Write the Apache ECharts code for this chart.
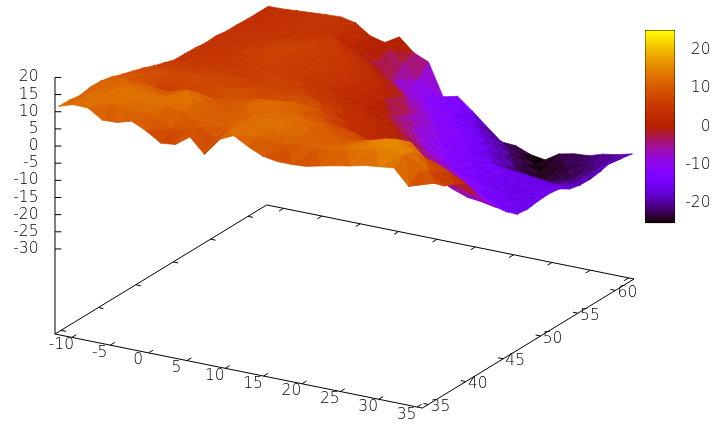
<!DOCTYPE html>
<html><head><meta charset="utf-8">
<style>html,body{margin:0;padding:0;background:#fff}#c{width:717px;height:426px}</style>
<script src="https://cdn.jsdelivr.net/npm/echarts@6/dist/echarts.min.js"></script></head>
<body><div id="c"></div>
<script>
const lonValues=[-12,-10.1,-8.2,-6.3,-4.4,-2.5,-0.6,1.3,3.2,5.1,7,8.9,10.8,12.7,14.6,16.5,18.4,20.3,22.2,24.1,26,27.9,29.8,31.7,33.6,35.5];
const latValues=[34.5,35.9,37.3,38.7,40.1,41.5,42.9,44.3,45.7,47.1,48.5,49.9,51.3,52.7,54.1,55.5,56.9,58.3,59.7,61.1,62.5];
const zValues=[
[11.3,12.6,12.5,9.8,10,11.2,9.2,6.5,7,10,5.8,11,13,10.6,8.7,8,8,8.3,9.3,10.2,11,12,12.5,13,8.5,11.8],
[11.2,12.8,13,12.5,12,12,11,9,9,11,9,12,13.5,12,11,11,12,12,12,13,14,15,16,15,11,8.4],
[10.7,12.5,13,13.5,13,13,13,12,10.5,11,10.5,12,13,13,12.5,12,11,11,11.5,13,14.5,16,16,14,9,5.7],
[11.3,12,12.5,13,13,12.5,13.5,13,11,11,11,12,12.5,13,13,11.5,11,10.5,11,12,13,14,14,10,7,4.4],
[11.2,11.5,12,12,11,11,13.5,11.5,10,10,11,12,12,12,12,11,10,9,8,8,8,9,8,7,5,2.9],
[10.5,10.8,10.5,10,9.5,11,11,10,10,10.5,12.5,13,11,11,10,9,9,8,6,5,4.5,4,3,2.5,1,-1.9],
[9.4,9.6,7.5,5,6,8,6.5,8.5,9,10,10,10.5,11.5,10,8,7,5.5,4,3,2,1,-0.5,-2,-3.5,-5,-6.8],
[8.5,8.8,8.5,7,8.5,8,9.5,9,8,8,8.5,8.5,9,8,6,4,2.5,1.5,0,-1.5,-3,-5,-7,-8.5,-9,-9.8],
[7.5,7.8,8,8,8,7,7,8,8,7.5,8,9,8,5.5,3.5,2.5,2,1,0,-1.5,-3.5,-6,-8,-10,-11.5,-13],
[6.3,6.6,6.5,6.5,7,7.5,7,6,6.5,7,7,6,5,4,3,2.5,1.5,-0.5,-3,-5,-7,-9,-11,-13,-14.5,-15.5],
[5.3,5.5,5.5,6,6,5.5,6,7,7,6,5.5,4.5,4,3,2,1,-0.5,-2.5,-5,-7,-9,-11,-13,-14.5,-15.5,-15.9],
[4.3,4.6,5,5,5,5.5,6,6,5.5,5,4.5,3,2.5,1.5,0.5,-1,-3,-7,-9.5,-11,-12.5,-14,-15,-15.5,-15.5,-15.4],
[4.2,4.3,4.5,5,5.5,6,6.5,5.5,5,5,4,3,2,1,-1.5,-4,-6.5,-9,-11,-12.5,-14,-15,-16,-16.5,-16,-15.2],
[4.1,4.3,4.6,5,6,6.5,6,5.5,5.5,5.5,4.5,3.5,3,0.5,-4,-6.5,-9,-11,-12.5,-14,-14,-14.5,-15,-15.5,-15.5,-15.6],
[3.7,4,4.5,5,6,7,6.5,6,5.5,5,4.5,3.5,2,-1,-5,-8,-10.5,-12,-13,-14.5,-15,-15.5,-16,-16.5,-17,-17.5],
[3.9,4,4.3,4.6,5.5,6,7,6,5,4.5,3.5,2,0,-3,-7,-9.5,-11,-12.5,-14.5,-17,-19,-20.5,-21,-20.5,-19,-18.2],
[3.4,3.6,4,4.3,4.5,5,5.5,5.5,4.5,3,1.5,-1,-4,-8,-10,-11.5,-12.5,-14.5,-16,-19.5,-22,-22.5,-22,-21,-20,-18.3],
[3.4,3.5,3.8,4,4,4.5,5,4.5,2,0.5,-1.5,-5,-7.5,-9.5,-11,-12.5,-14,-16,-18.5,-21.5,-23.5,-23.5,-23,-22,-20,-17.8],
[3.2,3.4,3.6,3.8,4,4,3,1,0,-1.5,-6,-9.5,-10.5,-11.5,-13,-14.5,-16.5,-18.5,-21,-23,-24.5,-24,-23,-22,-20,-16.9],
[3.2,3.3,3.5,3.7,4,4.2,3.5,1.5,0,0,-3,-7,-11,-12,-14,-16.5,-19,-21,-23,-25,-24.5,-23,-22,-21,-20,-17.8],
[3.2,3.3,3.6,3.9,4.2,4.4,3.5,0.6,-0.5,2,-1.8,-3.6,-12.9,-11.9,-15.3,-19,-22.6,-22.9,-24.6,-25.3,-22.7,-21.8,-21.5,-20.2,-19.5,-18.4]
];
const lonTicks=[-10,-5,0,5,10,15,20,25,30,35];
const latTicks=[35,40,45,50,55,60];
const zTicks=[20,15,10,5,0,-5,-10,-15,-20,-25,-30];
const cbTicks=[-20,-10,0,10,20];
const lonRange=[-12.2,35.7], latRange=[34.2,62.5], zRange=[-54.8,20], cbRange=[-25,25];
const FONT='"DejaVu Sans"', FS=15.5, FW=200, TC='#000';

function project(lon,lat,z){
  const u=lon-lonRange[0], v=lat-latRange[0];
  return [55+7.67*u+7.48*v, 334+1.546*u-4.56*v-3.43*(z-zRange[0])];
}
function pal(z){
  const g=Math.min(1,Math.max(0,(z-cbRange[0])/(cbRange[1]-cbRange[0])));
  const c=v=>Math.round(255*Math.max(0,Math.min(1,v)));
  return 'rgb('+c(Math.sqrt(g))+','+c(g*g*g)+','+c(Math.sin(2*Math.PI*g))+')';
}
const tris=[];
for(let k=0;k<latValues.length-1;k++)for(let j=0;j<lonValues.length-1;j++){
  const P=(a,b)=>[lonValues[j+a],latValues[k+b],zValues[k+b][j+a]];
  const q=(j+k)%2===0?[[P(0,0),P(1,0),P(1,1)],[P(0,0),P(1,1),P(0,1)]]:[[P(0,0),P(1,0),P(0,1)],[P(1,0),P(1,1),P(0,1)]];
  q.forEach(t=>tris.push(t));
}
const depth=t=>t.reduce((s,p)=>s+1.546*p[0]-4.56*p[1],0);
tris.sort((a,b)=>depth(a)-depth(b));

const zb=zRange[0];
const boxSegs=[
 [[lonRange[0],latRange[0],zb],[lonRange[1],latRange[0],zb]],
 [[lonRange[1],latRange[0],zb],[lonRange[1],latRange[1],zb]],
 [[lonRange[1],latRange[1],zb],[lonRange[0],latRange[1],zb]],
 [[lonRange[0],latRange[1],zb],[lonRange[0],latRange[0],zb]],
 [[lonRange[0],latRange[0],zb],[lonRange[0],latRange[0],zRange[1]]]
];
lonTicks.forEach(l=>{
  boxSegs.push([[l,latRange[0],zb],[l,latRange[0]+0.6,zb]]);
  boxSegs.push([[l,latRange[1],zb],[l,latRange[1]-0.6,zb]]);
});
latTicks.forEach(l=>{
  boxSegs.push([[lonRange[1],l,zb],[lonRange[1]-0.65,l,zb]]);
  boxSegs.push([[lonRange[0],l,zb],[lonRange[0]+0.65,l,zb]]);
});
zTicks.forEach(z=>{
  boxSegs.push([[lonRange[0],latRange[0],z],[lonRange[0]+0.62,latRange[0]+0.21,z]]);
});
const labels=[];
lonTicks.forEach(l=>{const p=project(l,latRange[0],zb);labels.push({t:String(l),x:p[0]-10.5,y:p[1]+7.5,a:'center'});});
latTicks.forEach(l=>{const p=project(lonRange[1],l,zb);labels.push({t:String(l),x:p[0]+12,y:p[1]+2.5,a:'center'});});
zTicks.forEach(z=>{const p=project(lonRange[0],latRange[0],z);labels.push({t:String(z),x:38.5,y:p[1],a:'right'});});

const cbLevels=[];for(let i=0;i<128;i++)cbLevels.push(cbRange[0]+(cbRange[1]-cbRange[0])*i/128);
const cbStep=(cbRange[1]-cbRange[0])/128;

const chart=echarts.init(document.getElementById('c'),null,{renderer:'canvas'});
const hid={show:false};
const blk={show:true,onZero:false,lineStyle:{color:'#000',width:1}};
chart.setOption({
 animation:false,
 grid:[{left:0,top:0,width:717,height:426,show:false},
       {left:645.5,top:30.5,width:29,height:192,show:false,z:5}],
 xAxis:[{type:'value',min:0,max:717,gridIndex:0,show:false},
        {type:'value',min:0,max:1,gridIndex:1,position:'top',axisLine:blk,axisTick:hid,axisLabel:hid,splitLine:hid},
        {type:'value',min:0,max:1,gridIndex:1,position:'bottom',axisLine:blk,axisTick:hid,axisLabel:hid,splitLine:hid}],
 yAxis:[{type:'value',min:0,max:426,inverse:true,gridIndex:0,show:false},
        {type:'value',min:cbRange[0],max:cbRange[1],gridIndex:1,position:'right',axisLine:blk,
         axisTick:{show:true,inside:true,length:6,customValues:cbTicks,lineStyle:{color:'#000',width:1}},
         axisLabel:{show:true,customValues:cbTicks,align:'right',margin:36,fontFamily:FONT,fontSize:FS,fontWeight:FW,color:TC},splitLine:hid},
        {type:'value',min:cbRange[0],max:cbRange[1],gridIndex:1,position:'left',axisLine:blk,
         axisTick:{show:true,inside:true,length:6,customValues:cbTicks,lineStyle:{color:'#000',width:1}},
         axisLabel:hid,splitLine:hid}],
 series:[
  {type:'custom',xAxisIndex:0,yAxisIndex:0,silent:true,clip:false,z:1,progressive:0,
   data:boxSegs.map((s,i)=>[i]),
   encode:{x:[],y:[]},
   renderItem:(p,api)=>{const s=boxSegs[p.dataIndex];
     const a=api.coord(project(...s[0])),b=api.coord(project(...s[1]));
     return {type:'line',shape:{x1:a[0],y1:a[1],x2:b[0],y2:b[1]},style:{stroke:'#000',lineWidth:1}};}},
  {type:'custom',xAxisIndex:0,yAxisIndex:0,silent:true,clip:false,z:2,progressive:0,
   data:tris.map((t,i)=>[i]),
   encode:{x:[],y:[]},
   renderItem:(p,api)=>{const t=tris[p.dataIndex];
     const pts=t.map(q=>api.coord(project(q[0],q[1],q[2])));
     const c=pal((t[0][2]+t[1][2]+t[2][2])/3);
     return {type:'polygon',shape:{points:pts},style:{fill:c,stroke:c,lineWidth:0.7}};}},
  {type:'custom',xAxisIndex:0,yAxisIndex:0,silent:true,clip:false,z:3,progressive:0,
   data:labels.map((t,i)=>[i]),
   encode:{x:[],y:[]},
   renderItem:(p,api)=>{const l=labels[p.dataIndex];const c=api.coord([l.x,l.y]);
     return {type:'text',x:c[0],y:c[1],style:{text:l.t,fontFamily:FONT,fontSize:FS,fontWeight:FW,fill:TC,align:l.a,verticalAlign:'middle'}};}},
  {type:'custom',xAxisIndex:1,yAxisIndex:1,silent:true,z:2,progressive:0,
   data:cbLevels.map(v=>[0,v]),
   encode:{x:0,y:1},
   renderItem:(p,api)=>{const v=api.value(1);
     const a=api.coord([0,v]),b=api.coord([1,v+cbStep]);
     return {type:'rect',shape:{x:a[0],y:b[1],width:b[0]-a[0],height:a[1]-b[1]+0.6},style:{fill:pal(v+cbStep/2)}};}}
 ]
});
</script></body></html>
